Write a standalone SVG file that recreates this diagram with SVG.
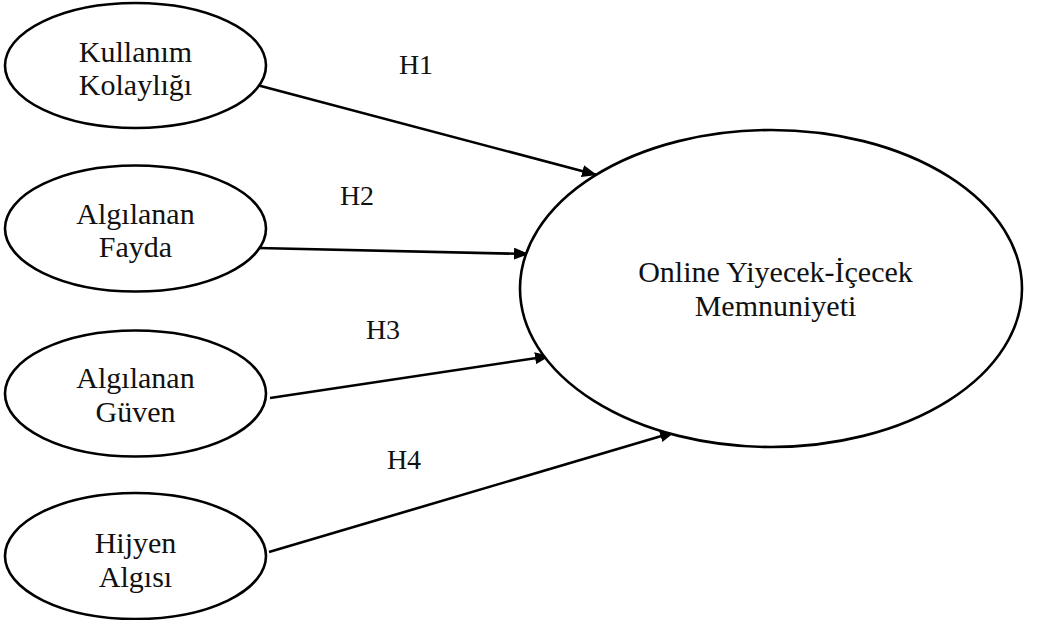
<svg xmlns="http://www.w3.org/2000/svg" width="1038" height="620" viewBox="0 0 1038 620">
<style>
.node ellipse{fill:#fff;stroke:#000;stroke-width:2.6}
text{font-family:"Liberation Serif","Times New Roman",serif;fill:#111;text-anchor:middle}
.lbl{font-size:30px}
.h{font-size:28px}
.edge{stroke:#000;stroke-width:2.6;fill:none;marker-end:url(#ah)}
</style>
<defs>
<marker id="ah" markerUnits="userSpaceOnUse" markerWidth="16" markerHeight="12" refX="15" refY="6" orient="auto">
<path d="M0,0 L15,6 L0,12 Z" fill="#000"/>
</marker>
</defs>
<rect width="1038" height="620" fill="#fff"/>
<g id="edges">
<line class="edge" x1="257" y1="85" x2="597" y2="175"/>
<line class="edge" x1="258" y1="248" x2="529" y2="254"/>
<line class="edge" x1="270" y1="398" x2="550" y2="356"/>
<line class="edge" x1="269" y1="552" x2="675" y2="432"/>
</g>
<g id="labels">
<text class="h" x="416" y="74">H1</text>
<text class="h" x="357" y="205">H2</text>
<text class="h" x="383" y="339">H3</text>
<text class="h" x="404" y="469">H4</text>
</g>
<g id="n1" class="node">
<ellipse cx="135.5" cy="65.5" rx="130.5" ry="62.5"/>
<text class="lbl" x="135.5" y="62">Kullanım</text>
<text class="lbl" x="135.5" y="95">Kolaylığı</text>
</g>
<g id="n2" class="node">
<ellipse cx="135.5" cy="228.5" rx="130.5" ry="63"/>
<text class="lbl" x="135.5" y="224">Algılanan</text>
<text class="lbl" x="135.5" y="257">Fayda</text>
</g>
<g id="n3" class="node">
<ellipse cx="135.5" cy="393.5" rx="130.5" ry="63"/>
<text class="lbl" x="135.5" y="388">Algılanan</text>
<text class="lbl" x="135.5" y="422">Güven</text>
</g>
<g id="n4" class="node">
<ellipse cx="135.5" cy="556" rx="130.5" ry="63"/>
<text class="lbl" x="135.5" y="553">Hijyen</text>
<text class="lbl" x="135.5" y="587">Algısı</text>
</g>
<g id="n5" class="node">
<ellipse cx="771" cy="288.5" rx="251" ry="158.5"/>
<text class="lbl" x="775.5" y="282">Online Yiyecek-İçecek</text>
<text class="lbl" x="775.5" y="316">Memnuniyeti</text>
</g>
</svg>
